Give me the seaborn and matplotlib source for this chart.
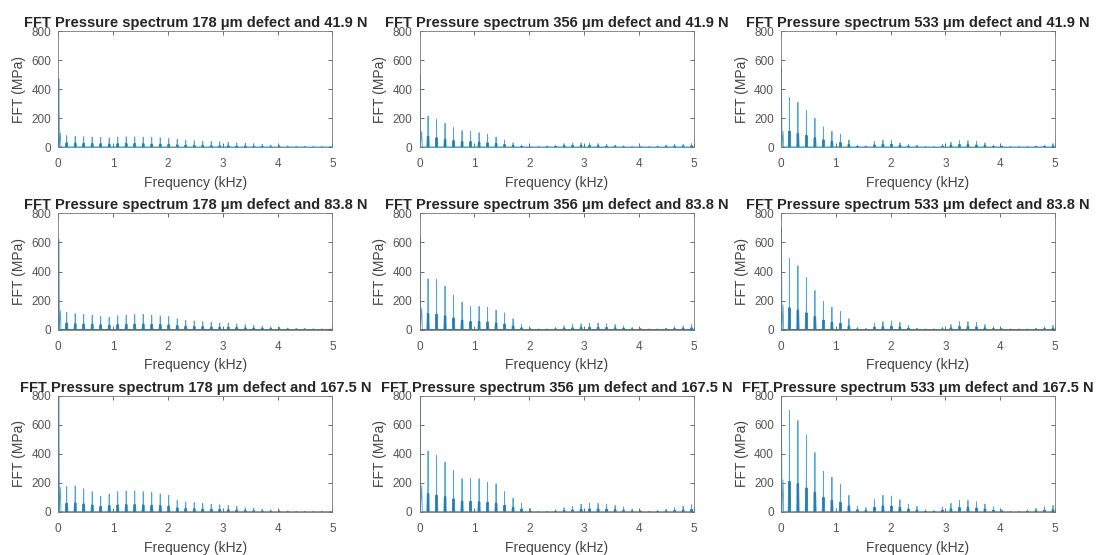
import pandas as pd
import matplotlib.pyplot as plt
import seaborn as sns

# harmonic lines of the defect frequency (kHz)
harmonic_khz = [0.155, 0.31, 0.465, 0.62, 0.775, 0.93, 1.085, 1.24, 1.395, 1.55,
                1.705, 1.86, 2.015, 2.17, 2.325, 2.48, 2.635, 2.79, 2.945, 3.1,
                3.255, 3.41, 3.565, 3.72, 3.875, 4.03, 4.185, 4.34, 4.495, 4.65,
                4.805, 4.96]

defects = ["178", "356", "533"]
loads = ["41.9", "83.8", "167.5"]

# peak amplitude at each harmonic (MPa)
p178_419 = [80, 75, 72, 70, 68, 65, 70, 72, 72, 70, 68, 65, 60, 55, 50, 45,
            42, 40, 38, 35, 30, 28, 25, 20, 15, 12, 10, 8, 6, 5, 5, 5]
p356_419 = [215, 195, 165, 135, 115, 110, 100, 90, 70, 50, 30, 15, 5, 5, 10, 15,
            25, 30, 30, 30, 25, 20, 15, 10, 5, 5, 5, 10, 15, 20, 20, 25]
p533_419 = [345, 310, 255, 200, 140, 110, 90, 50, 15, 10, 40, 50, 50, 30, 20, 15,
            5, 5, 20, 35, 45, 45, 40, 30, 15, 10, 5, 5, 5, 10, 15, 25]
p178_838 = [120, 110, 105, 100, 90, 85, 95, 100, 105, 105, 100, 95, 90, 75, 65, 60,
            55, 50, 45, 45, 40, 35, 30, 25, 20, 15, 12, 10, 8, 6, 5, 5]
p356_838 = [350, 345, 300, 235, 190, 160, 160, 155, 135, 115, 75, 35, 12, 5, 5, 15,
            25, 35, 40, 45, 45, 40, 35, 25, 15, 10, 5, 5, 10, 20, 25, 35]
p533_838 = [490, 440, 360, 270, 195, 155, 125, 75, 15, 8, 45, 55, 60, 50, 30, 10,
            5, 5, 15, 35, 55, 55, 50, 35, 20, 8, 5, 5, 5, 10, 20, 30]
p178_1675 = [175, 180, 160, 140, 110, 125, 140, 145, 145, 140, 135, 125, 115, 80, 70, 65,
             60, 55, 50, 45, 40, 30, 25, 20, 15, 10, 8, 6, 5, 5, 5, 5]
p356_1675 = [420, 390, 345, 285, 230, 230, 230, 205, 195, 140, 95, 60, 25, 5, 5, 15,
             30, 40, 55, 60, 60, 55, 45, 35, 20, 10, 5, 10, 20, 30, 40, 50]
p533_1675 = [700, 630, 530, 410, 280, 240, 190, 115, 40, 30, 85, 115, 110, 85, 55, 40,
             15, 10, 35, 60, 80, 80, 70, 55, 35, 15, 5, 5, 15, 25, 35, 45]

# sideband amplitude around each harmonic (MPa)
s178_419 = [30, 28, 26, 25, 24, 22, 24, 25, 25, 24, 22, 20, 18, 16, 14, 12,
            12, 10, 10, 10, 8, 8, 6, 5, 4, 3, 3, 2, 2, 2, 2, 2]
s356_419 = [75, 65, 55, 45, 40, 38, 35, 30, 25, 18, 12, 6, 2, 2, 4, 6,
            10, 12, 12, 12, 10, 8, 6, 4, 2, 2, 2, 4, 6, 8, 8, 10]
s533_419 = [110, 95, 80, 65, 50, 40, 32, 18, 6, 4, 15, 20, 20, 12, 8, 6,
            2, 2, 8, 14, 18, 18, 15, 12, 6, 4, 2, 2, 2, 4, 6, 10]
s178_838 = [45, 40, 38, 36, 33, 30, 34, 36, 38, 38, 36, 34, 32, 27, 23, 21,
            20, 18, 16, 16, 14, 12, 10, 9, 7, 5, 4, 3, 3, 2, 2, 2]
s356_838 = [110, 105, 95, 80, 65, 55, 55, 52, 45, 38, 25, 12, 4, 2, 2, 5,
            9, 12, 14, 16, 16, 14, 12, 9, 5, 3, 2, 2, 4, 7, 9, 12]
s533_838 = [150, 135, 115, 90, 65, 50, 42, 25, 5, 3, 16, 20, 22, 18, 10, 4,
            2, 2, 5, 12, 20, 20, 18, 12, 7, 3, 2, 2, 2, 4, 7, 10]
s178_1675 = [60, 62, 55, 48, 38, 43, 48, 50, 50, 48, 46, 43, 40, 28, 24, 22,
             20, 19, 17, 15, 14, 10, 9, 7, 5, 4, 3, 2, 2, 2, 2, 2]
s356_1675 = [125, 115, 105, 90, 75, 72, 70, 65, 60, 45, 32, 20, 8, 2, 2, 5,
             10, 14, 19, 21, 21, 19, 16, 12, 7, 4, 2, 4, 7, 10, 14, 18]
s533_1675 = [210, 195, 165, 135, 100, 80, 65, 42, 15, 10, 32, 42, 40, 32, 20, 14,
             5, 4, 12, 22, 30, 30, 26, 20, 12, 5, 2, 2, 5, 9, 12, 16]

# DC line and the low-frequency cluster next to it (MPa)
dc_peak = [470, 500, 550, 620, 640, 700, 820, 820, 820]
low_cluster = [100, 110, 110, 130, 150, 170, 170, 180, 220]

peaks = [[p178_419, p356_419, p533_419],
         [p178_838, p356_838, p533_838],
         [p178_1675, p356_1675, p533_1675]]
sides = [[s178_419, s356_419, s533_419],
         [s178_838, s356_838, s533_838],
         [s178_1675, s356_1675, s533_1675]]


def spectrum(pk, sd, dc, low):
    f = [0.0, 0.008, 0.014, 0.04, 0.05, 0.06]
    a = [0, dc, 0, low, 0, 0]
    fs, as_ = [], []
    for h, p, s in zip(harmonic_khz, pk, sd):
        f += [h - 0.004, h, h + 0.004]
        a += [0, p, 0]
        fs += [h - 0.02, h - 0.011, h - 0.004, h + 0.004, h + 0.011, h + 0.02]
        as_ += [0, s, 0, 0, s, 0]
    f.append(5.0)
    a.append(0)
    main = pd.DataFrame({"f": f, "amp": a})
    side = pd.DataFrame({"f": [0.0, 0.008, 0.016] + fs + [5.0],
                         "amp": [0, dc, 0] + as_ + [0]})
    return main, side


sns.set_theme(style="white")
plt.rcParams["font.family"] = ["Liberation Sans", "DejaVu Sans"]

fig, axes = plt.subplots(3, 3, figsize=(10.98, 5.55), dpi=100)
fig.subplots_adjust(left=0.053, right=0.961, bottom=0.0775, top=0.944,
                    wspace=0.3175, hspace=0.57)

for i in range(3):
    for j in range(3):
        ax = axes[i, j]
        k = i * 3 + j
        main, side = spectrum(peaks[i][j], sides[i][j], dc_peak[k], low_cluster[k])
        sns.lineplot(data=main, x="f", y="amp", sort=False, estimator=None,
                     ax=ax, color="#4aa6d6", lw=0.6)
        sns.lineplot(data=side, x="f", y="amp", sort=False, estimator=None,
                     ax=ax, color="#1877ad", lw=0.8, alpha=0.85)
        ax.set_xlim(0, 5)
        ax.set_ylim(0, 800)
        ax.set_xticks([0, 1, 2, 3, 4, 5])
        ax.set_yticks([0, 200, 400, 600, 800])
        ax.tick_params(direction="in", length=3, width=0.6, color="#555555",
                       labelsize=8.5, labelcolor="#555555", top=True, right=True,
                       bottom=True, left=True)
        ax.tick_params(axis="x", pad=8)
        ax.tick_params(axis="y", pad=5)
        for sp in ax.spines.values():
            sp.set_color("#777777")
            sp.set_linewidth(0.6)
        ax.set_xlabel("Frequency (kHz)", fontsize=10, color="#444444", labelpad=4)
        ax.set_ylabel("FFT (MPa)", fontsize=10, color="#444444", labelpad=4)
        ax.set_title(f"FFT Pressure spectrum {defects[j]} μm defect and {loads[i]} N",
                     fontsize=10.5, fontweight="bold", pad=3)

plt.savefig("out.png", dpi=100)
